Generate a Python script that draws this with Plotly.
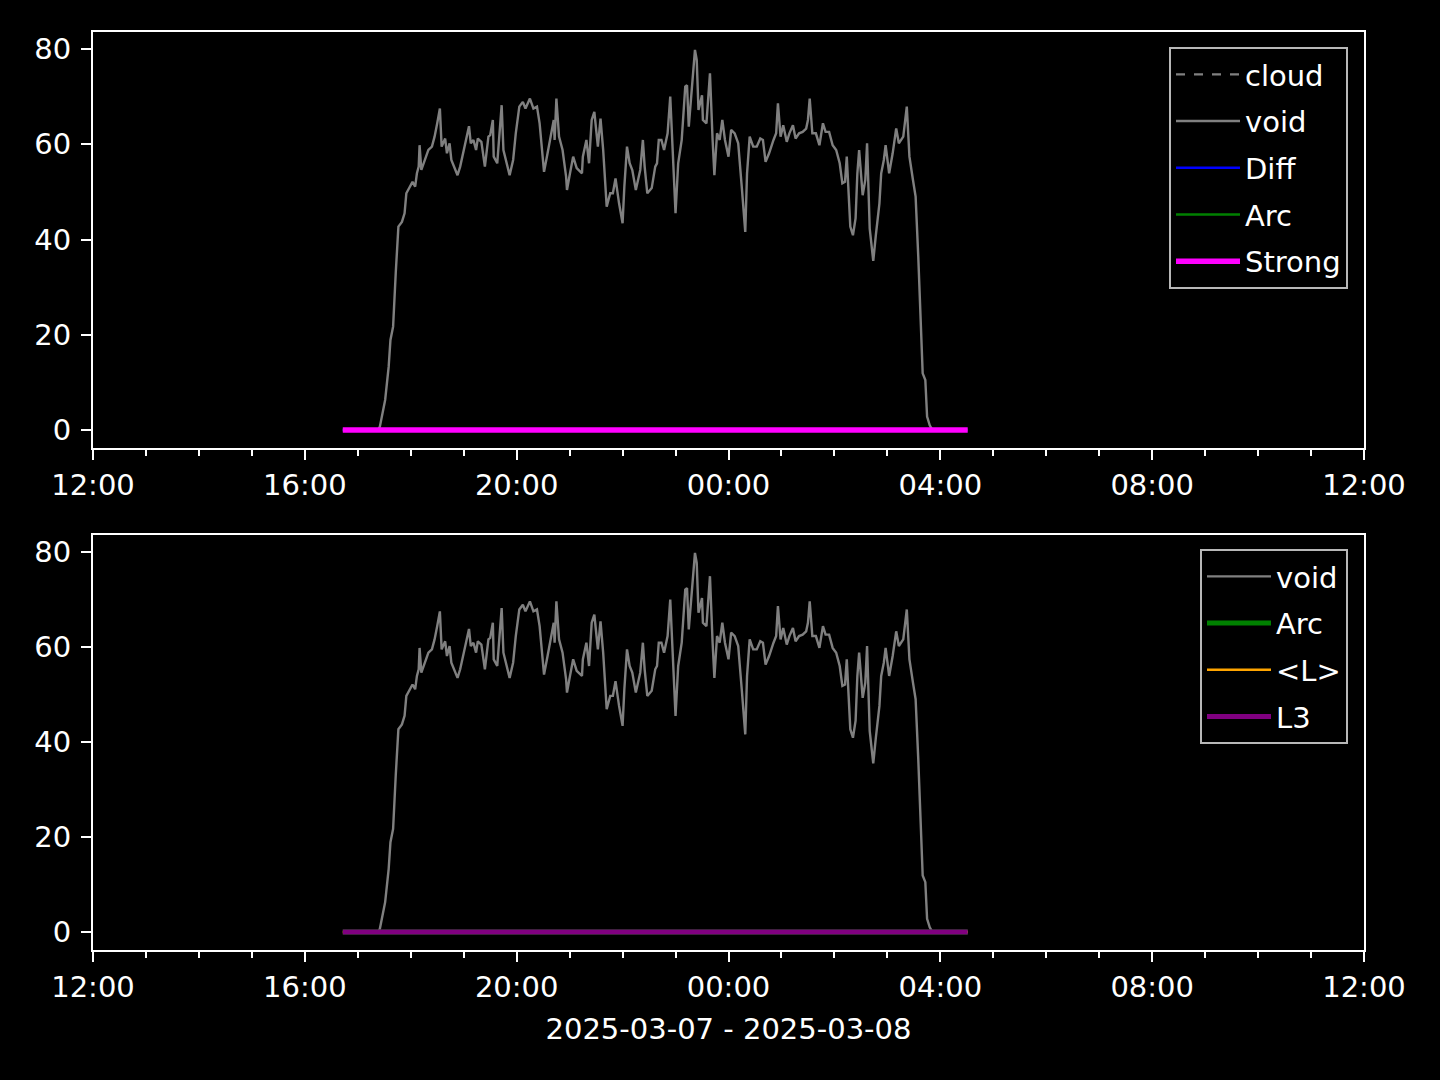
import plotly.graph_objects as go
from plotly.subplots import make_subplots

# ---- data ----
void_times_d1 = ["17:23","17:25","17:31","17:35","17:37","17:40","17:43","17:46","17:50","17:53",
    "17:55","17:59","18:02","18:05","18:07","18:09","18:10","18:12","18:16","18:20",
    "18:24","18:27","18:30","18:33","18:35","18:39","18:41","18:44","18:46","18:50",
    "18:53","18:56","19:01","19:06","19:08","19:11","19:14","19:16","19:20","19:24",
    "19:28","19:30","19:33","19:34","19:38","19:40","19:43","19:45","19:48","19:52",
    "19:56","19:59","20:03","20:07","20:10","20:15","20:19","20:23","20:26","20:31",
    "20:35","20:40","20:42","20:43","20:45","20:48","20:52","20:56","20:57","21:00",
    "21:04","21:08","21:14","21:15","21:19","21:22","21:25","21:28","21:32","21:35",
    "21:38","21:42","21:46","21:49","21:52","21:56","22:00","22:02","22:05","22:08",
    "22:11","22:15","22:20","22:23","22:25","22:28","22:33","22:37","22:39","22:41",
    "22:44","22:47","22:51","22:54","22:57","23:00","23:03","23:07","23:11","23:13",
    "23:15","23:18","23:22","23:24","23:26","23:30","23:31","23:35","23:39","23:42",
    "23:44","23:47","23:50","23:53","23:56"]
void_values_d1 = [0.0,0.7,6.3,13.3,18.9,21.7,33.0,42.7,43.7,45.5,
    49.7,51.1,52.1,51.1,53.9,55.3,59.8,54.6,56.7,58.8,
    59.5,61.6,64.4,67.5,59.5,61.2,58.1,60.2,56.7,54.9,
    53.5,55.3,59.5,63.8,60.2,60.9,58.8,61.2,60.5,55.3,
    61.6,61.9,65.1,57.4,56.0,61.6,68.2,58.8,56.3,53.5,
    56.7,62.3,67.9,68.9,67.5,69.6,67.5,67.9,64.4,54.2,
    58.1,63.0,65.1,60.9,69.6,61.6,58.8,53.2,50.4,53.5,
    57.4,55.0,53.9,57.4,60.9,56.0,65.1,66.8,59.5,65.4,
    58.8,46.9,49.7,49.7,52.8,47.6,43.4,51.1,59.5,56.0,
    54.6,50.4,54.6,60.9,55.3,49.7,50.8,55.3,56.0,60.9,
    60.9,58.8,62.3,70.0,58.8,45.5,56.0,60.9,72.1,72.4,
    63.7,70.0,79.8,77.7,67.2,70.3,65.1,64.4,74.9,60.9,
    53.5,62.3,60.9,65.1,60.9]
void_times_d2 = ["00:00","00:03","00:07","00:11","00:15","00:19","00:21","00:24","00:28","00:32",
    "00:36","00:39","00:42","00:46","00:51","00:54","00:56","00:59","01:02","01:06",
    "01:09","01:13","01:16","01:20","01:24","01:28","01:30","01:32","01:35","01:39",
    "01:43","01:47","01:50","01:54","01:58","02:02","02:06","02:09","02:12","02:14",
    "02:18","02:21","02:24","02:26","02:28","02:32","02:35","02:37","02:40","02:44",
    "02:47","02:51","02:53","02:56","02:58","03:02","03:06","03:08","03:10","03:13",
    "03:18","03:22","03:25","03:29","03:32","03:35","03:38","03:40","03:43","03:45",
    "03:48","03:51"]
void_values_d2 = [57.4,63.0,62.3,60.2,51.1,41.6,53.9,61.6,59.5,59.5,
    61.2,60.9,56.3,58.1,60.9,62.3,68.6,61.6,64.0,60.5,
    62.3,64.0,61.2,62.3,62.6,63.3,65.1,69.6,62.3,62.3,
    59.8,64.4,62.6,62.6,59.8,58.8,56.0,51.8,52.1,57.4,
    42.7,40.9,44.5,53.9,58.8,49.3,52.5,60.2,42.3,35.5,
    41.0,47.6,53.9,56.7,59.8,53.9,58.1,60.9,63.3,60.2,
    61.6,67.9,57.4,52.5,49.0,36.4,22.4,11.9,10.5,2.8,
    1.0,0.0]

flat_times = ["2025-03-07 16:43", "2025-03-08 04:31"]
cloud_values = [0.0, 0.0]
diff_values = [0.0, 0.0]
arc_values = [0.0, 0.0]
strong_values = [0.0, 0.0]
meanl_values = [0.0, 0.0]
l3_values = [0.0, 0.0]

x_range = ["2025-03-07 12:00", "2025-03-08 12:00"]
y_ticks = [0, 20, 40, 60, 80]
x_title = "2025-03-07 - 2025-03-08"

void_times = ["2025-03-07 " + t for t in void_times_d1] + ["2025-03-08 " + t for t in void_times_d2]
void_values = void_values_d1 + void_values_d2

# ---- figure ----
W, H = 1440, 1080
ml, mr, mt, mb = 93, 76, 32, 130
ph = H - mt - mb
fig = make_subplots(rows=2, cols=1)
fig.update_layout(
    xaxis=dict(domain=[0, 1]), xaxis2=dict(domain=[0, 1]),
    yaxis=dict(domain=[1 - 416 / ph, 1]), yaxis2=dict(domain=[0, 415 / ph]),
)

FONT = "DejaVu Sans"

def add(row, name, x, y, color, width, dash="solid", legend="legend", grp=""):
    fig.add_trace(go.Scatter(x=x, y=y, mode="lines", name=name,
                             line=dict(color=color, width=width, dash=dash),
                             legend=legend, legendgroup=grp + name),
                  row=row, col=1)

add(1, "cloud", flat_times, cloud_values, "#808080", 2.4, dash="dash", grp="a")
add(1, "void", void_times, void_values, "#808080", 2.4, grp="a")
add(1, "Diff", flat_times, diff_values, "#0000ff", 2.4, grp="a")
add(1, "Arc", flat_times, arc_values, "#008000", 2.4, grp="a")
add(1, "Strong", flat_times, strong_values, "#ff00ff", 5.5, grp="a")

add(2, "void", void_times, void_values, "#808080", 2.4, legend="legend2", grp="b")
add(2, "Arc", flat_times, arc_values, "#008000", 5.0, legend="legend2", grp="b")
add(2, "<L>", flat_times, meanl_values, "#ffa500", 2.4, legend="legend2", grp="b")
add(2, "L3", flat_times, l3_values, "#800080", 5.0, legend="legend2", grp="b")

axis_common = dict(
    showline=True, mirror=True, linecolor="white", linewidth=2,
    showgrid=False, zeroline=False, ticks="outside", ticklen=10, tickwidth=2,
    tickcolor="white", tickfont=dict(family=FONT, size=29, color="white"),
)
for ax in ["xaxis", "xaxis2"]:
    fig.layout[ax].update(**axis_common, type="date", range=x_range,
                          dtick=4 * 3600000, tick0="2025-03-07 12:00", tickformat="%H:%M",
                          minor=dict(dtick=3600000, ticks="outside", ticklen=6,
                                     tickwidth=1.5, tickcolor="white"))
for ax in ["yaxis", "yaxis2"]:
    fig.layout[ax].update(**axis_common, range=[-3.78, 83.57], tickvals=y_ticks,
                          ticklabelstandoff=4)

fig.layout.xaxis2.title = dict(text=x_title, font=dict(family=FONT, size=29, color="white"),
                               standoff=16)

leg_common = dict(
    bgcolor="black", bordercolor="#b8b8b8", borderwidth=2,
    font=dict(family=FONT, size=29, color="white"),
    xanchor="right", yanchor="top", tracegroupgap=6, itemwidth=64,
)
fig.update_layout(
    width=W, height=H,
    margin=dict(l=ml, r=mr, t=mt, b=mb),
    paper_bgcolor="black", plot_bgcolor="black",
    font=dict(family=FONT, color="white", size=29),
    legend=dict(**leg_common, x=1 - 16 / 1271, y=(950 - 47) / ph, entrywidth=140),
    legend2=dict(**leg_common, x=1 - 16 / 1271, y=(950 - 549) / ph, entrywidth=105),
    showlegend=True,
)

fig.write_html("out.html", config={"displayModeBar": False},
               post_script="document.body.style.margin='0';document.body.style.padding='0';"
                           "document.body.style.background='black';")
